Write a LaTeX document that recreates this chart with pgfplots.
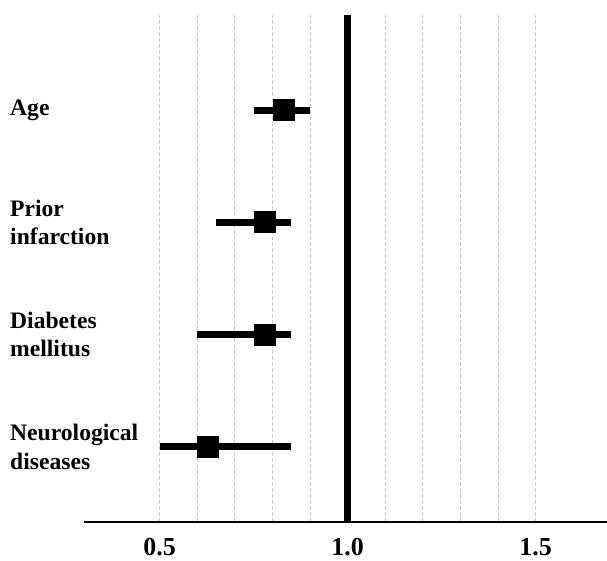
\documentclass[border=0pt]{standalone}
\usepackage{pgfplots}
\pgfplotsset{compat=1.18}
\usepackage{fontspec}
\setmainfont{Liberation Serif}
\begin{document}
\begin{tikzpicture}
\begin{axis}[
 scale only axis, width=522.6bp, height=507bp,
 xmin=0.3, xmax=1.69, ymin=0.332, ymax=4.846,
 axis x line=bottom, axis y line=left,
 x axis line style={-, line width=2bp},
 y axis line style={draw=none},
 xtick={0.5,1.0,1.5}, xticklabels={0.5,1.0,1.5},
 minor xtick={0.6,0.7,0.8,0.9,1.1,1.2,1.3,1.4},
 xmajorgrids, xminorgrids,
 major grid style={dash pattern=on 4bp off 2bp, gray!40, line width=0.6bp},
 minor grid style={dash pattern=on 4bp off 2bp, gray!40, line width=0.6bp},
 major tick length=0pt, minor tick length=0pt,
 ytick={1,2,3,4},
 yticklabels={{Neurological\\diseases},{Diabetes\\mellitus},{Prior\\infarction},{Age}},
 yticklabel style={anchor=west, align=left, inner sep=0pt, xshift=-74.4bp, font=\fontsize{23.7}{28.5}\selectfont\bfseries},
 xticklabel style={inner sep=0pt, yshift=-16bp, font=\fontsize{26}{30}\selectfont\bfseries},
 clip=false,
]
\addplot[line width=7bp, black] coordinates {(1,0.332) (1,4.846)};
\addplot[only marks, black, mark=square*, mark size=10.5bp,
  mark options={fill=black, draw=black, line width=0pt},
  error bars/.cd, x dir=both, x explicit, error bar style={line width=7bp, black}, error mark=none]
  table[x=x, y=y, x error plus=ep, x error minus=em] {
x y ep em
0.83 4 0.07 0.08
0.78 3 0.07 0.13
0.78 2 0.07 0.18
0.63 1 0.22 0.13
};
\end{axis}
\pgfresetboundingbox
\path[use as bounding box] ([xshift=-84.4bp,yshift=-39bp]current axis.south west) rectangle ([yshift=15bp]current axis.north east);
\end{tikzpicture}
\end{document}
